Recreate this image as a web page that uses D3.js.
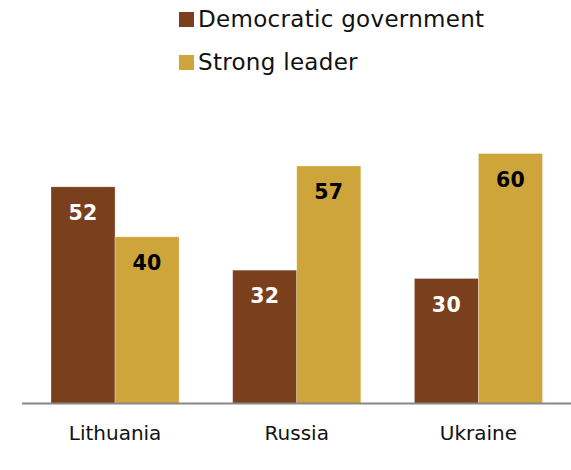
<!DOCTYPE html>
<html>
<head>
<meta charset="utf-8">
<script src="https://cdn.jsdelivr.net/npm/d3@7"></script>
<style>
  html, body { margin: 0; padding: 0; background: #fff; }
  svg { display: block; font-family: "DejaVu Sans", Verdana, sans-serif; }
</style>
</head>
<body>
<svg id="chart" width="571" height="470"></svg>
<script>
// Preference: democratic government vs. strong leader (%)
const countries = ["Lithuania", "Russia", "Ukraine"];
const seriesNames = ["Democratic government", "Strong leader"];
const democratic = [52, 32, 30];
const strongLeader = [40, 57, 60];
const seriesColors = ["#7a3f1c", "#cda53a"];
const labelColors = ["#ffffff", "#000000"];

const svg = d3.select("#chart");
const baseline = 403.5;

const x0 = d3.scaleBand()
  .domain(countries)
  .range([51, 542.5])
  .paddingInner(0.295)
  .paddingOuter(0);

const x1 = d3.scaleBand()
  .domain(seriesNames)
  .range([0, x0.bandwidth()])
  .padding(0);

const y = d3.scaleLinear()
  .domain([0, 60])
  .range([baseline, 153.5]);

const rows = countries.map((c, i) => ({
  country: c,
  values: [democratic[i], strongLeader[i]]
}));

const groups = svg.selectAll("g.group")
  .data(rows)
  .join("g")
  .attr("class", "group")
  .attr("transform", d => `translate(${x0(d.country)},0)`);

const cells = groups.selectAll("g.cell")
  .data(d => d.values.map((v, k) => ({ v, k, name: seriesNames[k] })))
  .join("g")
  .attr("class", "cell");

cells.append("rect")
  .attr("x", d => x1(d.name))
  .attr("y", d => y(d.v))
  .attr("width", x1.bandwidth())
  .attr("height", d => baseline - y(d.v))
  .attr("fill", d => seriesColors[d.k])
  .attr("stroke", "#ffffff")
  .attr("stroke-opacity", 0.35)
  .attr("stroke-width", 0.8);

cells.append("text")
  .attr("x", d => x1(d.name) + x1.bandwidth() / 2)
  .attr("y", d => y(d.v) + 33)
  .attr("text-anchor", "middle")
  .attr("font-size", "20.5px")
  .attr("font-weight", "bold")
  .attr("letter-spacing", "0.3px")
  .attr("fill", d => labelColors[d.k])
  .text(d => d.v);

// Baseline axis with category names
const xAxis = d3.axisBottom(x0).tickSize(0).tickPadding(0);
const axisG = svg.append("g")
  .attr("transform", `translate(0,${baseline})`)
  .call(xAxis);
axisG.select(".domain")
  .attr("d", `M22,0H571`)
  .attr("stroke", "#888888")
  .attr("stroke-width", 2);
axisG.selectAll(".tick text")
  .attr("y", 36.5)
  .attr("dy", 0)
  .attr("font-size", "20px")
  .attr("font-family", "DejaVu Sans, Verdana, sans-serif")
  .attr("fill", "#111111");

// Legend
const legend = svg.append("g")
  .selectAll("g")
  .data(seriesNames)
  .join("g")
  .attr("transform", (d, i) => `translate(179,${12 + i * 43})`);

legend.append("rect")
  .attr("width", 15)
  .attr("height", 15)
  .attr("fill", (d, i) => seriesColors[i]);

legend.append("text")
  .attr("x", 19)
  .attr("y", 15)
  .attr("font-size", "23px")
  .attr("letter-spacing", "0.3px")
  .attr("fill", "#111111")
  .text(d => d);
</script>
</body>
</html>
